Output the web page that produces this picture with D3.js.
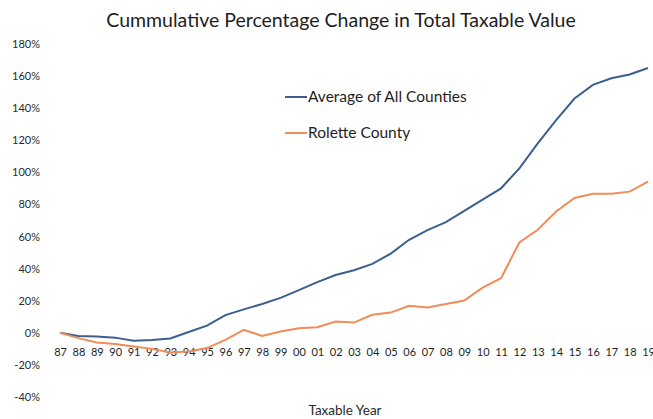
<!DOCTYPE html>
<html>
<head>
<meta charset="utf-8">
<script src="https://cdn.jsdelivr.net/npm/d3@7/dist/d3.min.js"></script>
<style>
  html, body { margin: 0; padding: 0; background: #fff; }
  svg { display: block; font-family: Lato, "Open Sans", sans-serif; }
</style>
</head>
<body>
<svg id="chart" width="653" height="419"></svg>
<script>
const years = ["87","88","89","90","91","92","93","94","95","96","97","98","99","00","01","02","03","04","05","06","07","08","09","10","11","12","13","14","15","16","17","18","19"];
const averageAll = [0,-2,-2.3,-3,-5,-4.5,-3.5,0.5,4.5,11,14.6,18,21.8,26.6,31.6,36,39,43,49.4,58,64,69,76,83,90,102.5,118,132.5,146,154.5,158.6,161,165];
const rolette = [0,-3.3,-6,-7,-8.5,-10,-12.3,-11.6,-9.5,-4.4,1.9,-1.9,0.8,2.9,3.5,7,6.4,11.2,12.6,16.8,15.8,17.9,20.1,28.2,34,56.3,64.2,75.6,84,86.6,86.6,88,94.3];
const yTicks = [-40,-20,0,20,40,60,80,100,120,140,160,180];
const seriesNames = ["Average of All Counties", "Rolette County"];
const colors = ["#3b5f8e", "#f08c57"];

const svg = d3.select("#chart");
const x = d3.scalePoint().domain(years).range([60, 648]);
const y = d3.scaleLinear().domain([-40, 180]).range([397, 44]);

// title
svg.append("text")
  .attr("x", 341).attr("y", 27)
  .attr("text-anchor", "middle")
  .attr("font-size", 19.5)
  .attr("fill", "#1e1e1e")
  .text("Cummulative Percentage Change in Total Taxable Value");

// y axis
const yAxis = d3.axisLeft(y).tickValues(yTicks).tickSize(0).tickPadding(0)
  .tickFormat(d => d + "%");
const gy = svg.append("g").attr("transform", "translate(40,0)").call(yAxis);
gy.select(".domain").remove();
gy.selectAll("text").attr("font-size", 11).attr("fill", "#2a2a2a").attr("font-family", "Lato, sans-serif");

// x axis labels below the 0 line
const xAxis = d3.axisBottom(x).tickSize(0).tickPadding(0);
const gx = svg.append("g").attr("transform", `translate(0,${y(0) + 23})`).call(xAxis);
gx.select(".domain").remove();
gx.selectAll("text").attr("font-size", 11).attr("fill", "#1e1e1e").attr("font-family", "Lato, sans-serif").attr("dy", "0");

// axis title
svg.append("text")
  .attr("x", 345).attr("y", 415)
  .attr("text-anchor", "middle")
  .attr("font-size", 13.5)
  .attr("fill", "#2a2a2a")
  .text("Taxable Year");

// lines
const line = d3.line().x((d, i) => x(years[i])).y(d => y(d));
[averageAll, rolette].forEach((s, i) => {
  svg.append("path")
    .datum(s)
    .attr("fill", "none")
    .attr("stroke", colors[i])
    .attr("stroke-width", 2)
    .attr("d", line);
});

// legend
const legendY = [97, 133];
seriesNames.forEach((n, i) => {
  svg.append("line")
    .attr("x1", 285).attr("x2", 307)
    .attr("y1", legendY[i]).attr("y2", legendY[i])
    .attr("stroke", colors[i]).attr("stroke-width", 2);
  svg.append("text")
    .attr("x", 308).attr("y", legendY[i] + 5)
    .attr("font-size", 15.5)
    .attr("fill", "#1e1e1e")
    .text(n);
});
</script>
</body>
</html>
